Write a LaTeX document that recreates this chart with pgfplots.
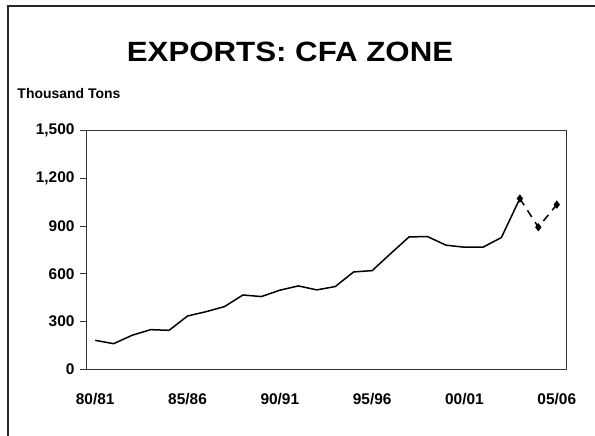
\documentclass[border=0pt]{standalone}
\usepackage{pgfplots}
\pgfplotsset{compat=1.18}
\usepackage{fontspec}
\setmainfont{Liberation Sans}
\usepackage{graphicx}
\begin{document}
\begin{tikzpicture}
\useasboundingbox (0bp,0bp) rectangle (595bp,436bp);
\draw[line width=2bp, black!85] (8bp,-2bp) -- (8bp,430bp) -- (597bp,430bp);
\node[anchor=base, font=\bfseries\fontsize{28}{30}\selectfont] at (290bp,374.3bp) {\scalebox{1.12}[1]{EXPORTS: CFA ZONE}};
\node[anchor=base west, inner sep=0pt, font=\bfseries\fontsize{14}{16}\selectfont] at (17.3bp,337bp) {Thousand Tons};
\begin{axis}[
  at={(86bp,66.7bp)}, anchor=south west,
  scale only axis, width=480bp, height=238.7bp,
  xmin=-0.5, xmax=25.5, ymin=0, ymax=1500,
  xtick={0,5,10,15,20,25},
  xticklabels={80/81,85/86,90/91,95/96,00/01,05/06},
  ytick={0,300,600,900,1200,1500},
  ytick pos=left, xtick pos=bottom,
  /pgf/number format/assume math mode=true,
  /pgf/number format/1000 sep={,},
  scaled y ticks=false,
  tick label style={font=\bfseries\fontsize{15.5}{16}\selectfont},
  x tick style={draw=none},
  y tick style={black!80, line width=0.8bp},
  tick align=outside, major tick length=6bp,
  xticklabel style={yshift=-14bp},
  yticklabel style={xshift=-2bp},
  axis line style={black!80, line width=0.8bp},
  clip=false,
]
\addplot[black, line width=1.5bp, mark=none] coordinates {
(0,182) (1,161) (2,214) (3,249) (4,245) (5,335) (6,362) (7,394) (8,467) (9,457)
(10,497) (11,524) (12,499) (13,520) (14,612) (15,620) (16,727) (17,832) (18,834)
(19,780) (20,767) (21,767) (22,828) (23,1073)
};
\addplot[black, line width=1.5bp, dash pattern=on 8bp off 6bp, mark=diamond*, mark size=3bp, mark options={solid}] coordinates {
(23,1073) (24,893) (25,1035)
};
\end{axis}
\end{tikzpicture}
\end{document}
